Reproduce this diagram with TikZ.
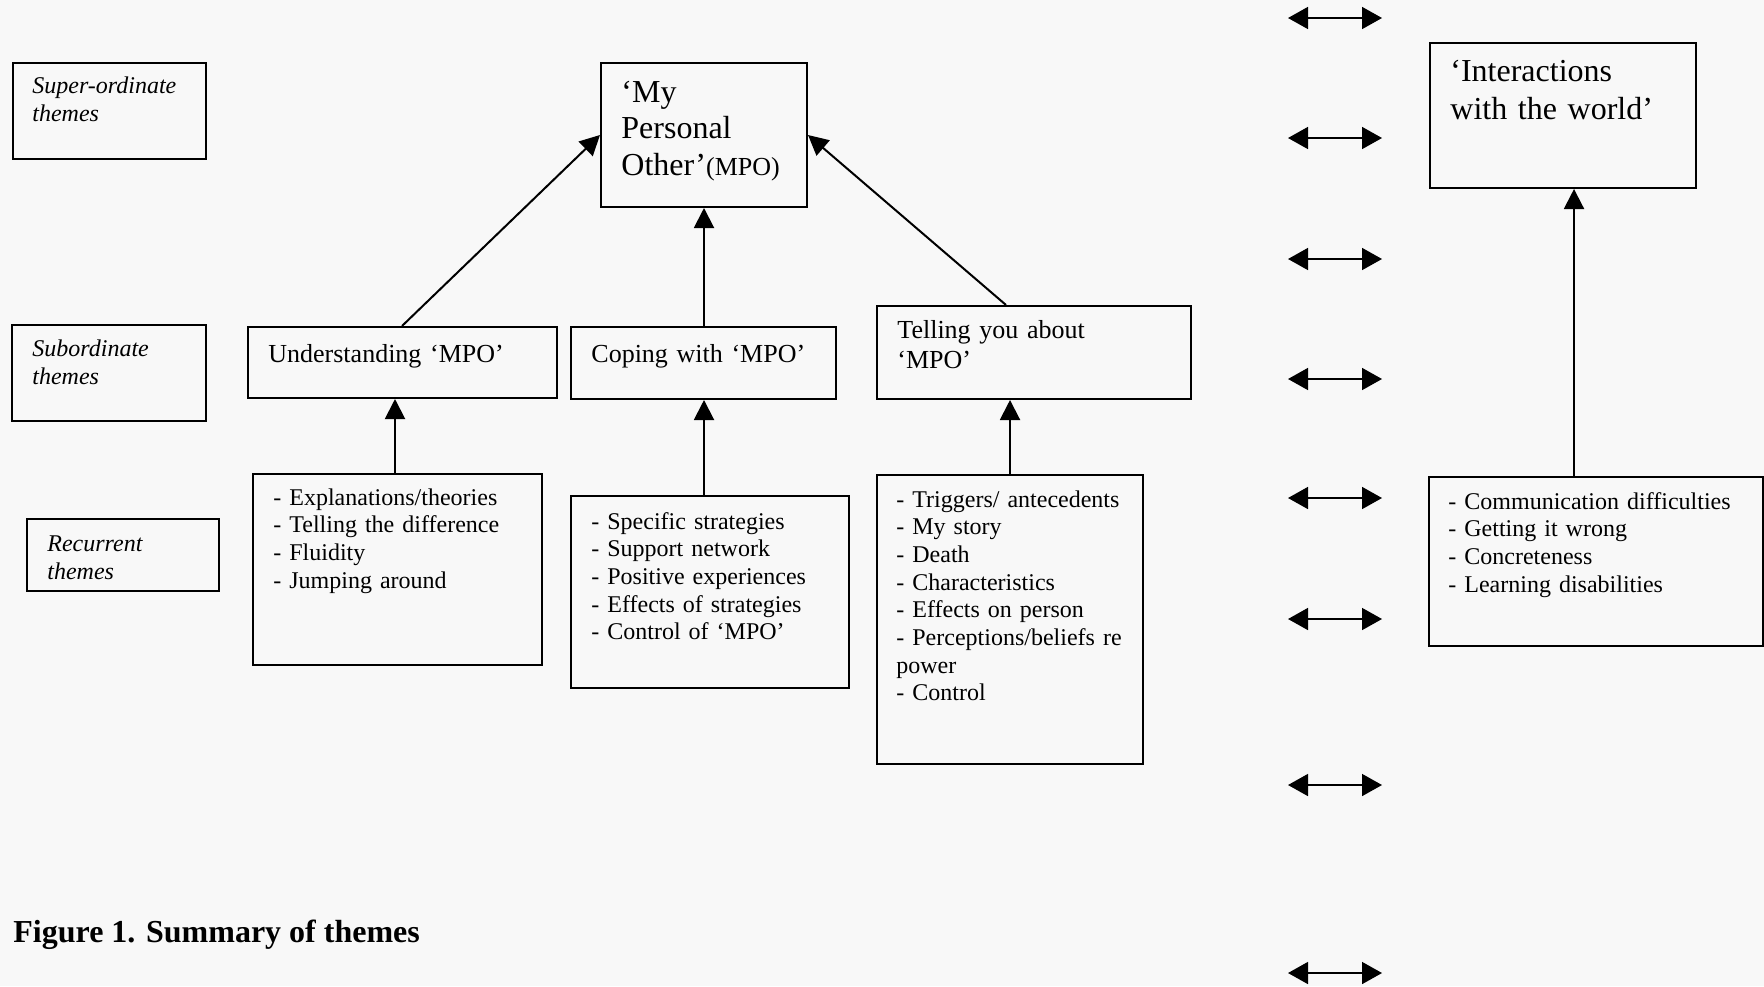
\documentclass[tikz,border=0pt]{standalone}
\usepackage{fontspec}
\setmainfont{Liberation Serif}
\usetikzlibrary{arrows.meta,calc}
\definecolor{bgc}{RGB}{248,248,248}
\tikzset{
  box/.style={draw, line width=1pt, inner sep=0pt, anchor=north west},
  txt/.style={inner sep=0pt, anchor=base west, align=left, text width=#1},
  txt/.default=200pt,
  f12/.style={font=\fontsize{12}{13.85}\selectfont},
  f13/.style={font=\fontsize{13}{15}\selectfont},
  f16/.style={font=\fontsize{16}{18.6}\selectfont},
  lab/.style={font=\fontsize{12}{14}\selectfont\itshape},
  conn/.style={line width=1pt, -{Triangle[length=10pt,width=10pt]}},
  dbl/.style={line width=0.8pt, {Triangle[length=10pt,width=11pt]}-{Triangle[length=10pt,width=11pt]}}
}
\begin{document}
\begin{tikzpicture}[x=0.5pt,y=-0.5pt]
\fill[bgc] (0,0) rectangle (1764,986);
\useasboundingbox (0,0) rectangle (1764,986);

% label boxes
\node[box, minimum width=96.5pt, minimum height=48pt] (lsup) at (12,62) {};
\node[box, minimum width=97pt, minimum height=48pt] (lsub) at (11,324) {};
\node[box, minimum width=96pt, minimum height=36pt] (lrec) at (26,518) {};
\node[txt, lab] (tlsup) at (32,93) {Super-ordinate\\themes};
\node[txt, lab] (tlsub) at (32,356) {Subordinate\\themes};
\node[txt, lab] (tlrec) at (47,551) {Recurrent\\themes};

% super-ordinate
\node[box, minimum width=103pt, minimum height=72pt] (mpo) at (600,62) {};
\node[txt, f16, font=\fontsize{16}{18.3}\selectfont] (tmpo) at (621,102) {‘My\\Personal\\Other’{\fontsize{13}{15}\selectfont(MPO)}};
\node[box, minimum width=133pt, minimum height=72.5pt] (inter) at (1429,42) {};
\node[txt, f16, font=\fontsize{16}{19}\selectfont] (tinter) at (1450,81) {‘Interactions\\with the world’};

% subordinate
\node[box, minimum width=154.5pt, minimum height=35.5pt] (und) at (247,326) {};
\node[box, minimum width=132.5pt, minimum height=36pt] (cop) at (570,326) {};
\node[box, minimum width=157pt, minimum height=46.5pt] (tel) at (876,305) {};
\node[txt, f13] (tund) at (268,362) {Understanding ‘MPO’};
\node[txt, f13] (tcop) at (591,362) {Coping with ‘MPO’};
\node[txt, f13] (ttel) at (897,338) {Telling you about\\‘MPO’};

% recurrent
\node[box, minimum width=144.5pt, minimum height=95.5pt] (lund) at (252,473) {};
\node[box, minimum width=139pt, minimum height=96pt] (lcop) at (570,495) {};
\node[box, minimum width=133pt, minimum height=144.5pt] (ltel) at (876,474) {};
\node[box, minimum width=167pt, minimum height=84.5pt] (linter) at (1428,476) {};
\node[txt, f12] (tlund) at (273,505) {- Explanations/theories\\- Telling the difference\\- Fluidity\\- Jumping around};
\node[txt, f12] (tlcop) at (591,529) {- Specific strategies\\- Support network\\- Positive experiences\\- Effects of strategies\\- Control of ‘MPO’};
\node[txt, f12] (tltel) at (896,507) {- Triggers/ antecedents\\- My story\\- Death\\- Characteristics\\- Effects on person\\- Perceptions/beliefs re\\power\\- Control};
\node[txt, f12] (tlinter) at (1448,509) {- Communication difficulties\\- Getting it wrong\\- Concreteness\\- Learning disabilities};

% connectors
\draw[conn] ($(und.north west)+(155,0)$) -- (mpo.west);
\draw[conn] (cop.north -| mpo.south) -- (mpo.south);
\draw[conn] ($(tel.north west)+(130,0)$) -- (mpo.east);
\draw[conn] ($(lund.north)+(-2.5,0)$) -- ($(lund.north |- und.south)+(-2.5,0)$);
\draw[conn] (lcop.north -| mpo.south) -- (cop.south -| mpo.south);
\draw[conn] (ltel.north) -- (ltel.north |- tel.south);
\draw[conn] ($(inter.south |- linter.north)+(11,0)$) -- ($(inter.south)+(11,0)$);

% double arrows
\foreach \i/\y in {1/18,2/138,3/259,4/379,5/498,6/619,7/785,8/973}{
  \coordinate (dl\i) at (1288,\y);
  \coordinate (dr\i) at (1382,\y);
  \draw[dbl] (dl\i) -- (dr\i);
}

% caption
\node[inner sep=0pt, anchor=base west, font=\fontsize{16}{19}\selectfont\bfseries] (cap) at (13,942) {Figure 1. Summary of themes};
\end{tikzpicture}
\end{document}
